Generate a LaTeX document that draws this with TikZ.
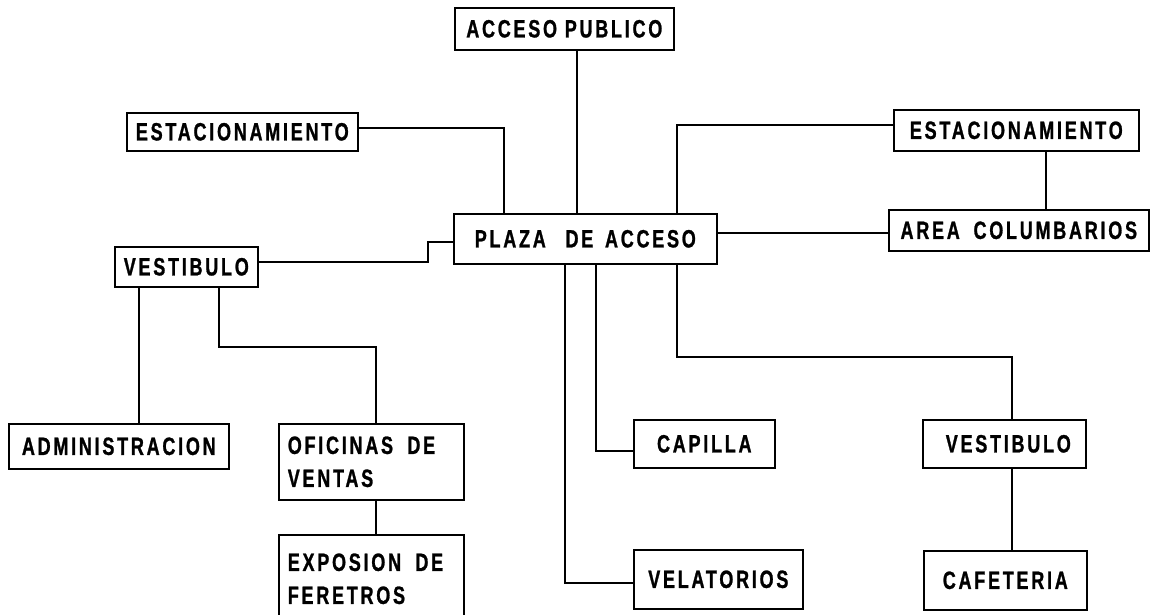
\documentclass[tikz,border=0pt]{standalone}
\usepackage{fontspec}
\setmainfont{Liberation Sans}[FakeStretch=0.72, LetterSpace=11, BoldFeatures={FakeBold=1}]
\begin{document}
\begin{tikzpicture}[x=1pt,y=-1pt,
  bx/.style={draw, line width=1.6pt, anchor=north west, inner sep=0pt,
    font=\bfseries\fontsize{25}{33}\selectfont},
  ln/.style={line width=1.6pt}]
\useasboundingbox[fill=white] (0,0) rectangle (1153,614);
% boxes
\node[bx, minimum width=219pt, minimum height=42pt] (pub) at (454,7) {ACCESO PUBLICO};
\node[bx, minimum width=231pt, minimum height=38pt] (estL) at (126,112) {ESTACIONAMIENTO};
\node[bx, minimum width=263pt, minimum height=50pt] (plaza) at (453,213) {PLAZA\hspace{12pt} DE\hspace{4pt} ACCESO};
\node[bx, minimum width=245pt, minimum height=41pt] (estR) at (893,109) {ESTACIONAMIENTO};
\node[bx, minimum width=260pt, minimum height=41pt] (area) at (888,209) {AREA\hspace{6pt} COLUMBARIOS};
\node[bx, minimum width=143pt, minimum height=40pt] (vestL) at (114,246) {VESTIBULO};
\node[bx, minimum width=220pt, minimum height=45pt] (admin) at (8,423) {ADMINISTRACION};
\node[bx, minimum width=185pt, minimum height=76pt, text width=167pt, align=left] (ofic) at (278,423) {OFICINAS\hspace{6pt} DE\\VENTAS};
\node[bx, minimum width=185pt, minimum height=88pt, text width=167pt, align=left] (expo) at (278,534) {EXPOSION\hspace{6pt} DE\\FERETROS};
\node[bx, minimum width=141pt, minimum height=48pt] (capilla) at (633,419) {CAPILLA};
\node[bx, minimum width=169pt, minimum height=59pt] (vela) at (633,549) {VELATORIOS};
\node[bx, minimum width=163pt, minimum height=48pt] (vestR) at (922,419) {\hspace{8pt}VESTIBULO};
\node[bx, minimum width=163pt, minimum height=59pt] (cafe) at (923,550) {\raisebox{-6pt}{CAFETERIA}};
% junction coordinates
\coordinate (j1) at (504,128);
\coordinate (j2) at (677,125);
\coordinate (j3) at (1046,0);
\coordinate (j4) at (0,233);
\coordinate (j5a) at (428,262);
\coordinate (j5b) at (428,242);
\coordinate (j6) at (139,0);
\coordinate (j7a) at (219,347);
\coordinate (j7b) at (376,347);
\coordinate (j8) at (577,0);
\coordinate (j9) at (565,583);
\coordinate (j10) at (596,451);
\coordinate (j11a) at (677,357);
\coordinate (j11b) at (1012,357);
% connectors
\draw[ln] (pub.south -| j8) -- (plaza.north -| j8);
\draw[ln] (estL.east |- j1) -- (j1) -- (plaza.north -| j1);
\draw[ln] (estR.west |- j2) -- (j2) -- (plaza.north -| j2);
\draw[ln] (estR.south -| j3) -- (area.north -| j3);
\draw[ln] (plaza.east |- j4) -- (area.west |- j4);
\draw[ln] (vestL.east |- j5a) -- (j5a) -- (j5b) -- (plaza.west |- j5b);
\draw[ln] (vestL.south -| j6) -- (admin.north -| j6);
\draw[ln] (vestL.south -| j7a) -- (j7a) -- (j7b) -- (ofic.north -| j7b);
\draw[ln] (ofic.south -| j7b) -- (expo.north -| j7b);
\draw[ln] (plaza.south -| j9) -- (j9) -- (vela.west |- j9);
\draw[ln] (plaza.south -| j10) -- (j10) -- (capilla.west |- j10);
\draw[ln] (plaza.south -| j11a) -- (j11a) -- (j11b) -- (vestR.north -| j11b);
\draw[ln] (vestR.south -| j11b) -- (cafe.north -| j11b);
\end{tikzpicture}
\end{document}
